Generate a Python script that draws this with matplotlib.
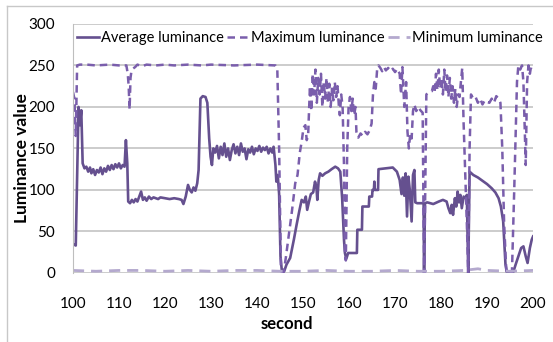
import matplotlib.pyplot as plt
from matplotlib.lines import Line2D

plt.rcParams['font.family'] = ['Lato', 'DejaVu Sans']

# average luminance per sample (second, value)
avg_t = [100.0, 100.6, 100.9, 101.2, 101.5, 101.8, 102.1, 102.5, 102.9, 103.3, 103.7, 104.0,
         104.4, 104.8, 105.2, 105.6, 106.0, 106.4, 106.8, 107.2, 107.6, 108.0, 108.4, 108.8,
         109.2, 109.6, 110.0, 110.4, 110.8, 111.2, 111.5, 111.8, 112.0, 112.4, 112.8, 113.2,
         113.6, 114.0, 114.4, 114.8, 115.2, 115.6, 116.0, 116.5, 117.0, 117.5, 118.0, 118.5,
         119.0, 120.0, 121.0, 122.0, 123.0, 123.6, 124.0, 124.5, 125.0, 125.4, 125.8, 126.2,
         126.6, 127.0, 127.3, 127.7, 128.2, 128.8, 129.2, 129.6, 129.9, 130.2, 130.5, 130.9,
         131.3, 131.7, 132.1, 132.5, 132.9, 133.3, 133.7, 134.1, 134.5, 134.9, 135.3, 135.7,
         136.1, 136.5, 136.9, 137.3, 137.7, 138.1, 138.5, 138.9, 139.3, 139.7, 140.1, 140.5,
         140.9, 141.3, 141.7, 142.1, 142.5, 142.9, 143.3, 143.6, 144.0, 144.2, 144.5, 144.8,
         145.1, 145.4, 145.9, 146.4, 147.2, 148.0, 148.6, 149.2, 149.7, 150.2, 150.6, 150.9,
         151.3, 151.7, 152.2, 152.6, 152.9, 153.1, 153.4, 153.7, 154.2, 154.8, 155.5, 156.2,
         157.0, 157.6, 158.1, 158.5, 158.9, 159.1, 159.4, 159.8, 160.5, 161.2, 161.7, 161.8,
         162.8, 162.9, 164.3, 164.4, 165.0, 165.1, 165.4, 165.5, 165.6, 166.3, 166.4, 168.0,
         169.5, 170.4, 171.0, 171.4, 171.7, 172.0, 172.3, 172.6, 172.9, 173.2, 173.6, 173.9,
         174.2, 174.4, 174.8, 175.5, 176.2, 176.3, 176.5, 177.0, 178.3, 179.5, 180.4, 181.2,
         181.6, 182.0, 182.3, 182.6, 183.0, 183.3, 183.6, 183.9, 184.2, 184.5, 184.9, 185.3,
         185.6, 185.9, 186.2, 187.0, 188.0, 189.0, 190.0, 191.0, 191.8, 192.5, 193.0, 193.5,
         194.0, 194.3, 195.7, 196.2, 196.8, 197.4, 197.9, 198.4, 198.8, 199.3, 199.7, 200.0]
avg_v = [35, 33, 120, 200, 178, 196, 132, 126, 128, 122, 127, 120,
         125, 118, 124, 121, 127, 119, 126, 122, 129, 124, 130, 125,
         131, 127, 132, 126, 130, 128, 160, 132, 86, 84, 88, 85,
         89, 86, 92, 98, 88, 91, 87, 92, 89, 91, 90, 89,
         91, 90, 89, 90, 89, 88, 83, 92, 106, 100, 97, 103,
         99, 108, 124, 210, 213, 212, 205, 162, 140, 130, 150, 145,
         153, 138, 152, 142, 156, 140, 150, 136, 148, 155, 144, 152,
         142, 156, 146, 150, 137, 149, 145, 152, 143, 150, 147, 153,
         146, 151, 148, 152, 144, 150, 145, 152, 130, 110, 118, 95,
         20, 2, 2, 10, 18, 40, 58, 75, 88, 85, 92, 76,
         86, 95, 97, 110, 104, 88, 112, 120, 117, 120, 122, 125,
         128, 126, 122, 90, 40, 24, 17, 24, 24, 24, 24, 52,
         52, 80, 80, 92, 92, 100, 100, 110, 100, 100, 125, 126,
         127, 122, 112, 95, 115, 93, 120, 68, 116, 100, 62, 118,
         124, 85, 84, 84, 84, 0, 84, 85, 83, 86, 88, 86,
         78, 72, 82, 70, 90, 80, 98, 85, 94, 78, 92, 90,
         94, 0, 122, 118, 115, 111, 107, 102, 97, 90, 80, 62,
         10, 1, 1, 10, 20, 30, 32, 20, 12, 30, 40, 44]

# maximum luminance per sample
max_t = [100.0, 100.3, 100.6, 100.9, 101.5, 103.0, 105.0, 108.0, 110.0, 111.6, 111.9, 112.1,
         112.3, 112.5, 112.7, 113.0, 113.5, 114.0, 115.0, 116.0, 118.0, 120.0, 122.0, 125.0,
         128.0, 130.0, 135.0, 140.0, 144.0, 144.4, 144.8, 145.2, 145.8, 146.3, 147.0, 147.6,
         148.3, 148.8, 149.3, 149.7, 150.1, 150.5, 150.8, 151.1, 151.5, 151.8, 152.1, 152.4,
         152.7, 153.0, 153.3, 153.6, 153.9, 154.2, 154.5, 154.8, 155.1, 155.4, 155.7, 156.0,
         156.3, 156.6, 156.9, 157.2, 157.5, 157.8, 158.0, 158.3, 158.6, 158.9, 159.1, 159.3,
         159.6, 159.9, 160.2, 160.5, 160.8, 161.1, 161.4, 161.6, 162.0, 162.5, 163.0, 163.5,
         164.0, 164.5, 164.9, 165.2, 165.5, 165.8, 166.1, 166.4, 166.8, 167.2, 167.6, 168.0,
         168.5, 169.0, 169.5, 170.0, 170.5, 171.0, 171.3, 171.6, 172.0, 172.4, 172.7, 173.0,
         173.3, 173.6, 173.9, 174.2, 174.6, 175.0, 175.5, 176.0, 176.2, 176.35, 176.6, 176.8,
         177.3, 178.0, 178.3, 178.6, 178.9, 179.2, 179.5, 179.8, 180.1, 180.4, 180.7, 181.0,
         181.3, 181.6, 181.9, 182.2, 182.5, 182.8, 183.1, 183.4, 183.7, 184.0, 184.3, 184.6,
         184.9, 185.2, 185.6, 185.9, 186.2, 186.5, 187.0, 187.5, 188.0, 188.5, 189.0, 189.5,
         190.0, 190.5, 191.0, 191.5, 192.0, 192.5, 192.9, 193.3, 193.7, 194.2, 195.4, 195.9,
         196.5, 196.8, 197.2, 197.6, 197.9, 198.2, 198.4, 198.7, 199.0, 199.3, 199.6, 200.0]
max_v = [218, 210, 165, 250, 251, 251, 250, 251, 250, 250, 240, 225,
         197, 235, 243, 246, 248, 251, 249, 251, 250, 251, 250, 251,
         250, 251, 250, 251, 250, 247, 150, 2, 1, 20, 50, 75,
         108, 118, 145, 158, 175, 178, 160, 165, 225, 195, 240, 215,
         245, 205, 235, 215, 240, 200, 230, 210, 235, 205, 228, 200,
         222, 208, 230, 212, 225, 200, 190, 215, 200, 130, 25, 15,
         150, 200, 212, 195, 210, 190, 200, 170, 163, 168, 165, 170,
         167, 172, 180, 215, 230, 222, 245, 250, 247, 243, 248, 244,
         247, 243, 246, 242, 246, 240, 215, 248, 200, 230, 170, 150,
         168, 162, 195, 203, 195, 200, 196, 193, 60, 0, 120, 215,
         218, 219, 225, 218, 240, 220, 245, 222, 235, 215, 245, 218,
         238, 212, 235, 210, 225, 205, 222, 200, 215, 212, 230, 247,
         180, 128, 60, 0, 150, 215, 210, 212, 205, 210, 203, 208,
         206, 205, 210, 205, 213, 210, 205, 150, 60, 0, 0, 100,
         230, 250, 245, 250, 230, 170, 130, 230, 250, 240, 250, 247]

# minimum luminance per sample
min_t = [100, 105, 110, 115, 120, 125, 130, 135, 140, 145, 150,
         155, 160, 165, 170, 175, 180, 185, 188, 190, 195, 200]
min_v = [3, 2, 3, 3, 2, 3, 2, 3, 3, 2, 2,
         3, 2, 2, 3, 2, 2, 3, 5, 3, 2, 3]

fig = plt.figure(figsize=(5.53, 3.42), dpi=100)
ax = fig.add_axes([0.132, 0.202, 0.832, 0.728])

ax.plot(avg_t, avg_v, color='#65508F', lw=1.9, label='Average luminance')
ax.plot(max_t, max_v, color='#7A5EAC', lw=1.8, dashes=(3, 2), label='Maximum luminance')
ax.plot(min_t, min_v, color='#B4A9CE', lw=2.0, dashes=(4, 2.5), label='Minimum luminance')

ax.set_xlim(100, 200)
ax.set_ylim(0, 300)
ax.set_xticks(range(100, 201, 10))
ax.set_yticks(range(0, 301, 50))
ax.tick_params(length=0, labelsize=11)
ax.tick_params(axis='x', pad=17)
ax.tick_params(axis='y', pad=13)
ax.yaxis.grid(True, color='#BEBEBE', lw=1.1)
ax.set_axisbelow(True)
for s in ['top', 'right', 'bottom']:
    ax.spines[s].set_visible(False)
ax.spines['left'].set_color('#BEBEBE')

ax.set_xlabel('second', fontsize=12, fontweight='bold')
ax.xaxis.set_label_coords(0.465, -0.172)
ax.set_ylabel('Luminance value', fontsize=12.5, fontweight='bold')
ax.yaxis.set_label_coords(-0.093, 0.46)

fig.legend(loc='upper left', bbox_to_anchor=(0.14, 0.908), ncol=3, frameon=False,
           fontsize=10.5, handlelength=1.5, handletextpad=0.15, columnspacing=0.2,
           borderaxespad=0, borderpad=0)

# chart border
fig.add_artist(Line2D([7 / 553, 7 / 553], [0, 1 - 6 / 342], color='#C8C8C8', lw=1))
fig.add_artist(Line2D([7 / 553, 1], [1 - 6 / 342, 1 - 6 / 342], color='#C8C8C8', lw=1))

fig.savefig('out.png', dpi=100)
